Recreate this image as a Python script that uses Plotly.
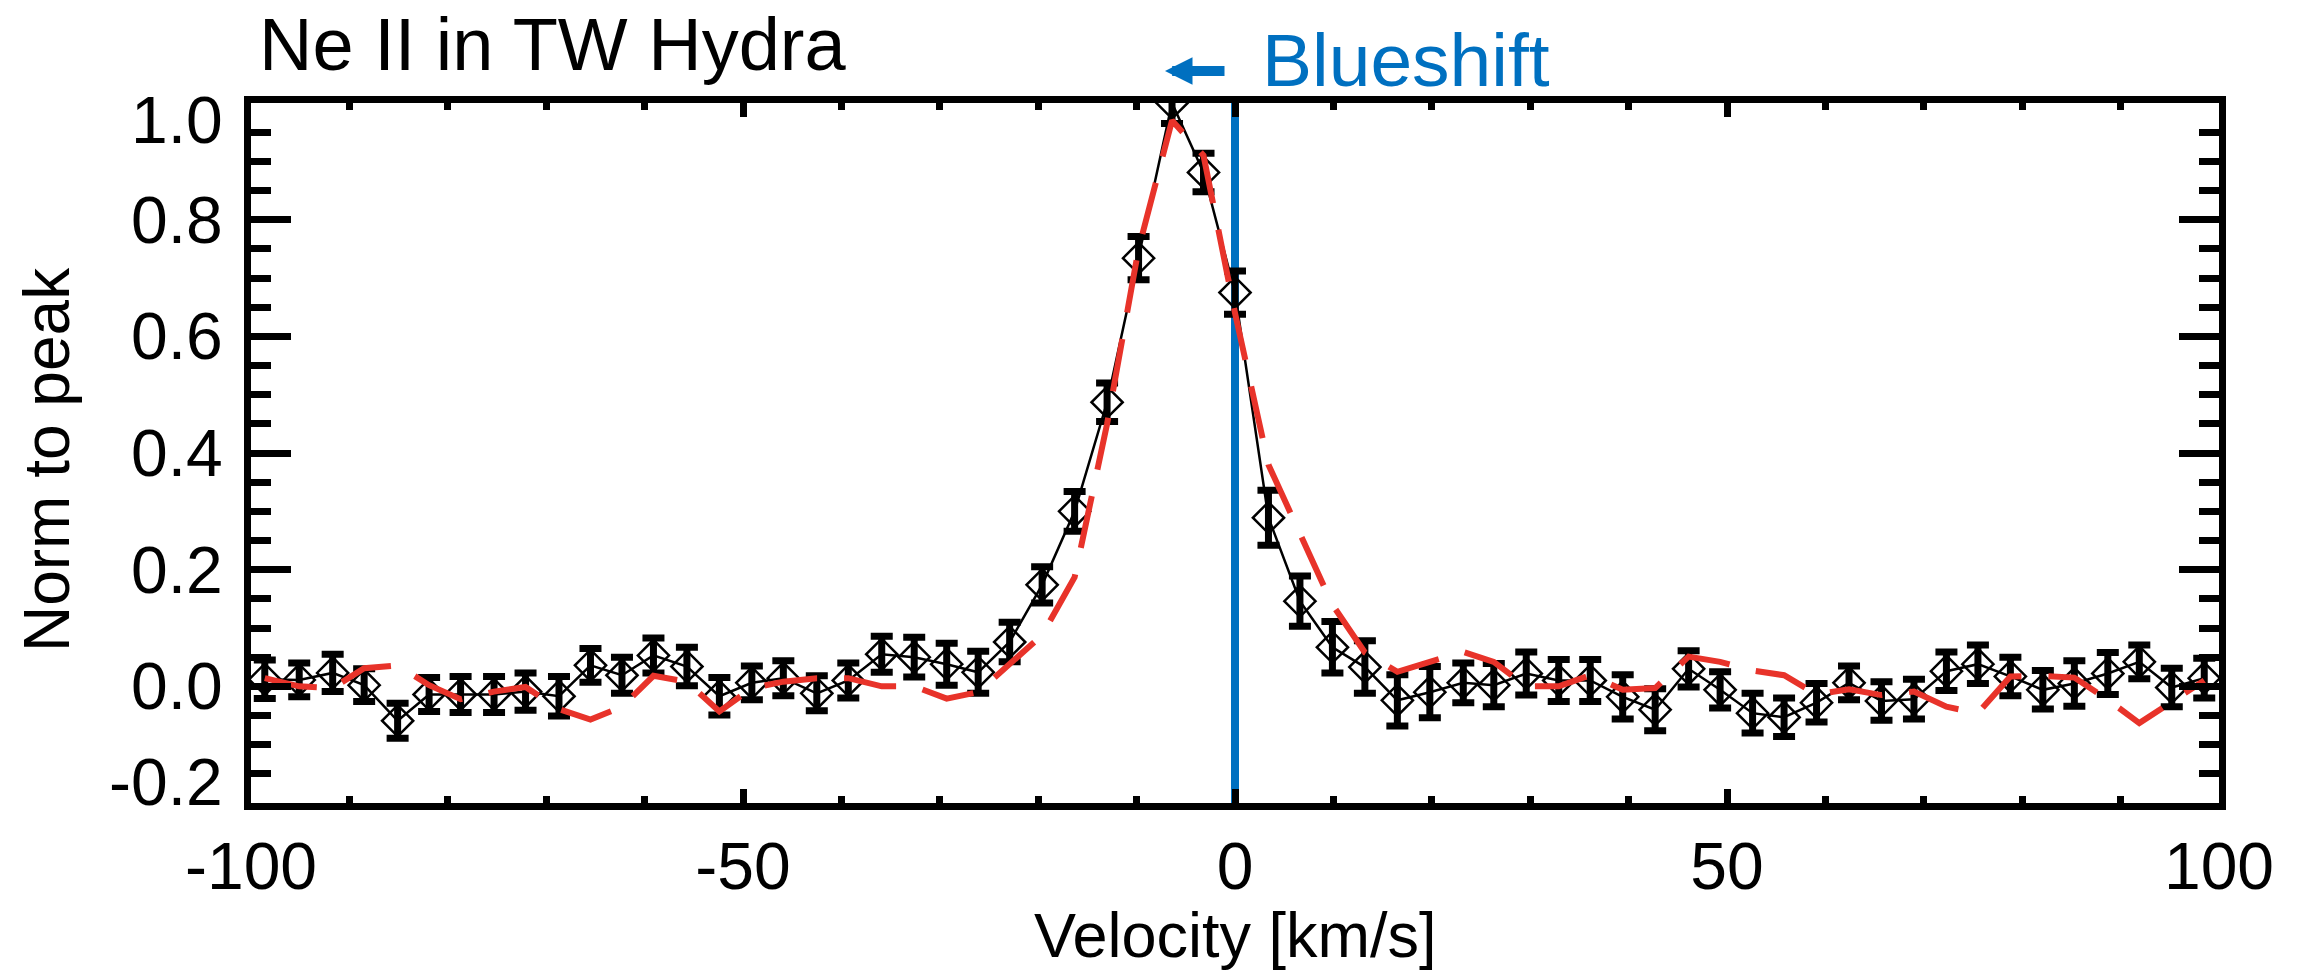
import plotly.graph_objects as go

# ---------------- data ----------------
velocity = [-98.6, -95.1, -91.7, -88.5, -85.1, -81.9, -78.7, -75.3, -72.1, -68.7,
            -65.5, -62.3, -59.1, -55.7, -52.4, -49.1, -45.9, -42.5, -39.3, -35.9,
            -32.6, -29.3, -26.1, -22.9, -19.6, -16.3, -13.0, -9.8, -6.4, -3.2,
            0.0, 3.4, 6.6, 9.9, 13.2, 16.5, 19.8, 23.2, 26.3, 29.6,
            32.9, 36.1, 39.4, 42.7, 46.1, 49.3, 52.6, 55.8, 59.1, 62.4,
            65.7, 69.0, 72.3, 75.5, 78.8, 82.1, 85.3, 88.7, 91.9, 95.2, 98.5]

flux = [0.012, 0.011, 0.023, 0.002, -0.059, -0.014, -0.014, -0.014, -0.009, -0.017,
        0.036, 0.019, 0.053, 0.034, -0.017, 0.006, 0.014, -0.012, 0.010, 0.055,
        0.050, 0.038, 0.024, 0.076, 0.174, 0.300, 0.487, 0.734, 1.000, 0.881,
        0.675, 0.289, 0.146, 0.067, 0.033, -0.024, -0.010, 0.006, 0.002, 0.022,
        0.010, 0.010, -0.018, -0.040, 0.030, -0.006, -0.046, -0.053, -0.028, 0.006,
        -0.025, -0.022, 0.026, 0.038, 0.017, -0.006, 0.005, 0.022, 0.042, -0.002, 0.014]

flux_err = [0.033, 0.029, 0.032, 0.028, 0.030, 0.029, 0.031, 0.031, 0.032, 0.034,
            0.029, 0.031, 0.030, 0.033, 0.032, 0.029, 0.030, 0.030, 0.030, 0.031,
            0.034, 0.036, 0.036, 0.034, 0.031, 0.034, 0.033, 0.037, 0.035, 0.033,
            0.037, 0.047, 0.043, 0.044, 0.045, 0.044, 0.044, 0.034, 0.037, 0.037,
            0.036, 0.036, 0.038, 0.036, 0.031, 0.031, 0.034, 0.033, 0.033, 0.029,
            0.033, 0.034, 0.033, 0.033, 0.033, 0.033, 0.039, 0.036, 0.029, 0.033, 0.034]

model = [0.014, 0.000, -0.003, 0.031, 0.036, 0.002, -0.022, -0.009, -0.001, -0.039,
         -0.057, -0.035, 0.018, 0.008, -0.043, -0.003, 0.008, 0.014, 0.014, 0.000,
         0.000, -0.021, -0.010, 0.037, 0.088, 0.187, 0.450, 0.750, 0.970, 0.910,
         0.640, 0.380, 0.260, 0.140, 0.058, 0.025, 0.042, 0.059, 0.042, 0.000,
         0.000, 0.019, -0.006, -0.003, 0.051, 0.042, 0.027, 0.019, -0.014, -0.005,
         -0.015, -0.009, -0.035, -0.046, 0.017, 0.018, 0.015, -0.023, -0.063, -0.026, 0.010]

blueshift_x = [0, 0]
blueshift_y = [-0.2, 1.0]

x_tick_vals = [-100, -50, 0, 50, 100]
x_tick_text = ["-100", "-50", "0", "50", "100"]
y_tick_vals = [1.0, 0.8, 0.6, 0.4, 0.2, 0.0, -0.2]
y_tick_text = ["1.0", "0.8", "0.6", "0.4", "0.2", "0.0", "-0.2"]

FONT = "Liberation Sans, Arial, Helvetica, sans-serif"
BLUE = "#0070C0"
RED = "#E8332A"

W, H = 2305, 973
ML, MR, MT, MB = 251, 86, 103, 170
PW, PH = W - ML - MR, H - MT - MB

fig = go.Figure()

fig.add_trace(go.Scatter(
    x=blueshift_x, y=blueshift_y, mode="lines",
    line=dict(color=BLUE, width=8), showlegend=False, hoverinfo="skip"))

fig.add_trace(go.Scatter(
    x=velocity, y=flux, mode="lines+markers",
    line=dict(color="black", width=2.5),
    marker=dict(symbol="diamond-open", size=24, color="black", line=dict(width=2.5)),
    error_y=dict(type="data", array=flux_err, visible=True, color="black",
                 thickness=7, width=11),
    showlegend=False))

fig.add_trace(go.Scatter(
    x=velocity, y=model, mode="lines",
    line=dict(color=RED, width=6, dash="53px,27px"),
    showlegend=False))

axis_common = dict(
    showline=True, linewidth=7, linecolor="black", mirror="ticks",
    ticks="inside", tickwidth=7, tickcolor="black",
    showgrid=False, zeroline=False,
)

fig.update_xaxes(
    range=[-100, 100], tickvals=x_tick_vals, ticktext=x_tick_text,
    ticklen=14, tickfont=dict(family=FONT, size=66, color="black"),
    ticklabelstandoff=0,
    minor=dict(dtick=10, tick0=0, ticks="inside", ticklen=7, tickwidth=7, tickcolor="black"),
    **axis_common)

fig.update_yaxes(
    range=[-0.2, 1.0], tickvals=y_tick_vals, showticklabels=False,
    ticklen=40,
    minor=dict(dtick=0.05, tick0=0, ticks="inside", ticklen=20, tickwidth=7, tickcolor="black"),
    **axis_common)

annotations = []
# y tick labels (end labels kept inside the axis extent, as in the reference)
for v, t in zip(y_tick_vals, y_tick_text):
    shift = 0
    if v == max(y_tick_vals):
        shift = -17
    elif v == min(y_tick_vals):
        shift = 21
    annotations.append(dict(
        x=0, xref="paper", y=v, yref="y", text=t, showarrow=False,
        xanchor="right", yanchor="middle", xshift=-26, yshift=shift,
        font=dict(family=FONT, size=66, color="black")))

# y-axis title
annotations.append(dict(
    x=(47 - ML) / PW, xref="paper", y=(H - MB - 460) / PH, yref="paper",
    text="Norm to peak", textangle=-90, showarrow=False,
    xanchor="center", yanchor="middle",
    font=dict(family=FONT, size=64, color="black")))

# x-axis title
annotations.append(dict(
    x=0.5, xref="paper", y=-(935 - (H - MB)) / PH, yref="paper",
    text="Velocity [km/s]", showarrow=False, xanchor="center", yanchor="middle",
    font=dict(family=FONT, size=63, color="black")))

# chart title (box kept inside the page)
annotations.append(dict(
    x=(257 - ML) / PW, xref="paper", y=1 + (MT - 1) / PH, yref="paper",
    text="Ne II in TW Hydra", showarrow=False, xanchor="left", yanchor="top",
    font=dict(family=FONT, size=74, color="black")))

# Blueshift label
annotations.append(dict(
    x=(1260 - ML) / PW, xref="paper", y=1 + (MT - 60) / PH, yref="paper",
    text="Blueshift", showarrow=False, xanchor="left", yanchor="middle",
    font=dict(family=FONT, size=75, color=BLUE)))

# arrow pointing to the blue side
annotations.append(dict(
    x=(1165 - ML) / PW, xref="paper", y=1 + (MT - 71) / PH, yref="paper",
    ax=61, ay=0, text="", showarrow=True, arrowhead=2, arrowsize=0.55,
    arrowwidth=10, arrowcolor=BLUE))

fig.update_layout(
    width=W, height=H,
    margin=dict(l=ML, r=MR, t=MT, b=MB, pad=0),
    paper_bgcolor="white", plot_bgcolor="white",
    font=dict(family=FONT, color="black"),
    showlegend=False,
    annotations=annotations,
)

fig.write_html("out.html")
